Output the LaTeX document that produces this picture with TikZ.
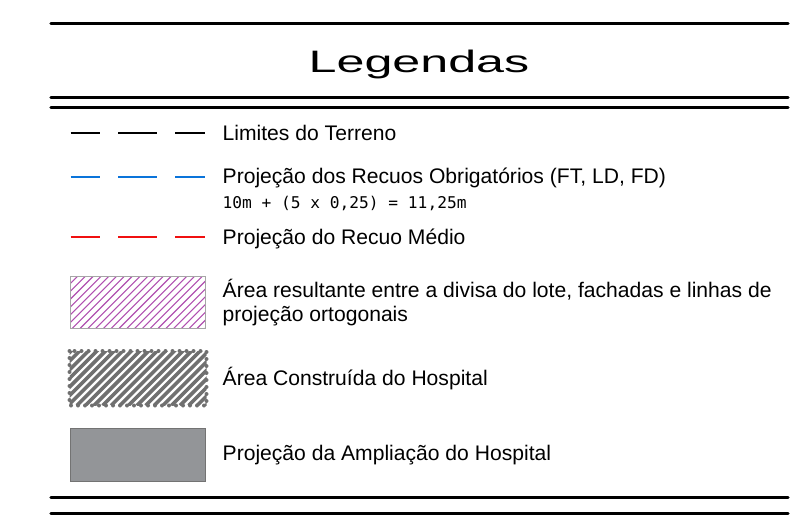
\documentclass[tikz,border=0pt]{standalone}
\usepackage{fontspec}
\setmainfont{Liberation Sans}
\newfontfamily\monof{DejaVu Sans Mono}
\definecolor{dblue}{HTML}{0A74DA}
\definecolor{dred}{HTML}{F01010}
\definecolor{hpurple}{HTML}{B050B0}
\definecolor{hgray}{HTML}{707070}
\definecolor{fgray}{HTML}{939598}
\tikzset{
  rule/.style={line width=3.3pt, line cap=round, black},
  dashseg/.style={line width=2pt},
  lbl/.style={anchor=base west, inner sep=0pt, font=\fontsize{21.1}{25}\selectfont},
  monolbl/.style={anchor=base west, inner sep=0pt, font=\monof\fontsize{16.2}{19}\selectfont},
  hatchA/.style={hpurple, line width=1.1pt},
  hatchB/.style={hgray, line width=3.6pt},
}
\begin{document}
\begin{tikzpicture}[x=1pt,y=-1pt]
\useasboundingbox (0,0) rectangle (804,524);
% rules
\draw[rule] (51,23.3) -- (788,23.3);
\draw[rule] (51,97.3) -- (788,97.3);
\draw[rule] (51,107.5) -- (788,107.5);
\draw[rule] (51,497.3) -- (788,497.3);
\draw[rule] (51,513.3) -- (788,513.3);
% title
\node[anchor=base, inner sep=0pt] (title) at (419,73) {\scalebox{1.62}[1]{\fontsize{31}{36}\selectfont Legendas}};
% dashed line samples
\foreach \y/\c in {133.3/black, 177/dblue, 237.5/dred}{
  \draw[dashseg, \c] (70.5,\y) -- (100,\y);
  \draw[dashseg, \c] (118,\y) -- (157,\y);
  \draw[dashseg, \c] (175,\y) -- (205,\y);
}
% box 1: purple hatch
\begin{scope}
  \clip (70.7,276) rectangle (205,328.3);
  \foreach \i in {0,...,27} \draw[hatchA] (10+\i*7.8,328.3) -- ++(60,-60);
\end{scope}
\draw[gray!70, line width=0.8pt] (70.7,276) rectangle (205,328.3);
% box 2: thick gray hatch with dotted border
\begin{scope}
  \clip (69.5,351) rectangle (206.5,405.5);
  \foreach \i in {0,...,24} \draw[hatchB] (8+\i*8.6,405.5) -- ++(60,-60);
\end{scope}
\draw[hgray, line width=4pt, line cap=round, dash pattern=on 0pt off 7pt] (69.5,351) rectangle (206.5,405.5);
% box 3: solid gray
\draw[fill=fgray, draw=gray!90!black, line width=0.8pt] (70.7,428.3) rectangle (205.7,481.7);
% labels
\node[lbl] (l1) at (222.5,141) {Limites do Terreno};
\node[lbl] (l2) at (222.5,184) {Projeção dos Recuos Obrigatórios (FT, LD, FD)};
\node[monolbl] (l2b) at (222.5,208) {10m + (5 x 0,25) = 11,25m};
\node[lbl] (l3) at (222.5,244) {Projeção do Recuo Médio};
\node[lbl] (l4) at (222.5,297) {Área resultante entre a divisa do lote, fachadas e linhas de};
\node[lbl] (l4b) at (222.5,321) {projeção ortogonais};
\node[lbl] (l5) at (222.5,385) {Área Construída do Hospital};
\node[lbl] (l6) at (222.5,460.5) {Projeção da Ampliação do Hospital};
\end{tikzpicture}
\end{document}
